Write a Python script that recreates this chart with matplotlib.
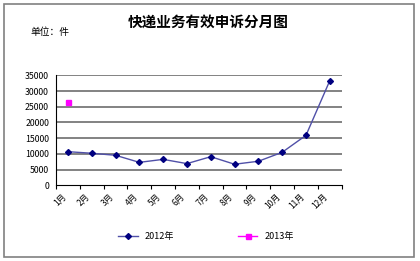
import matplotlib.pyplot as plt
import numpy as np

plt.rcParams['font.family'] = ['Noto Sans CJK SC', 'DejaVu Sans']

months = ['1月', '2月', '3月', '4月', '5月', '6月', '7月', '8月', '9月', '10月', '11月', '12月']
y2012 = [10700, 10200, 9550, 7300, 8250, 6900, 9100, 6700, 7650, 10500, 15900, 33300]
y2013 = [26400]
yticks = [0, 5000, 10000, 15000, 20000, 25000, 30000, 35000]

fig = plt.figure(figsize=(4.2, 2.61), dpi=100)
fig.patch.set_facecolor('white')
# outer frame
fig.add_artist(plt.Rectangle((3.5/420, 4/261), 410.5/420, 253/261, transform=fig.transFigure,
                             fill=False, edgecolor='#808080', lw=1.2))

ax = fig.add_axes([56/420, 1 - 185.3/261, 285.7/420, 110/261])
x = np.arange(len(months))
for t in yticks[1:]:
    ax.axhline(t, color='#606060', lw=1.1, zorder=1)
ax.plot(x, y2012, color='#5050a8', lw=1, marker='D', ms=3, mfc='#000080', mec='#000080', zorder=3, label='2012年')
ax.plot(x[:len(y2013)], y2013, color='#ff00ff', lw=1, marker='s', ms=3.6, mfc='#ff00ff', mec='#ff00ff', zorder=3, label='2013年', linestyle='-')

ax.set_xlim(-0.5, 11.5)
ax.set_ylim(0, 35000)
ax.set_yticks(yticks)
ax.set_yticklabels([str(t) for t in yticks], fontsize=6.3)
ax.set_xticks(np.arange(-0.5, 12, 1))
ax.set_xticklabels([])
ax.set_xticks(x, minor=True)
ax.set_xticklabels(months, minor=True, rotation=45, fontsize=6, ha='right', va='top')
ax.tick_params(axis='x', which='minor', length=0, pad=5)
ax.tick_params(axis='x', which='major', length=3, direction='out', width=0.8)
ax.tick_params(axis='y', length=0, pad=5)
ax.spines['top'].set_visible(False)
ax.spines['right'].set_visible(False)
ax.spines['left'].set_linewidth(0.8)
ax.spines['bottom'].set_linewidth(0.8)

fig.text(208/420, 1 - 22/261, '快递业务有效申诉分月图', ha='center', va='center', fontsize=10.5, fontweight='bold')
fig.text(30/420, 1 - 32/261, '单位：件', ha='left', va='center', fontsize=7)

fig.legend(loc='center', bbox_to_anchor=(206/420, 1 - 237/261), ncol=2, frameon=False,
           fontsize=6.5, columnspacing=7, handlelength=2.2, handletextpad=0.8)

fig.savefig('out.png', dpi=100)
